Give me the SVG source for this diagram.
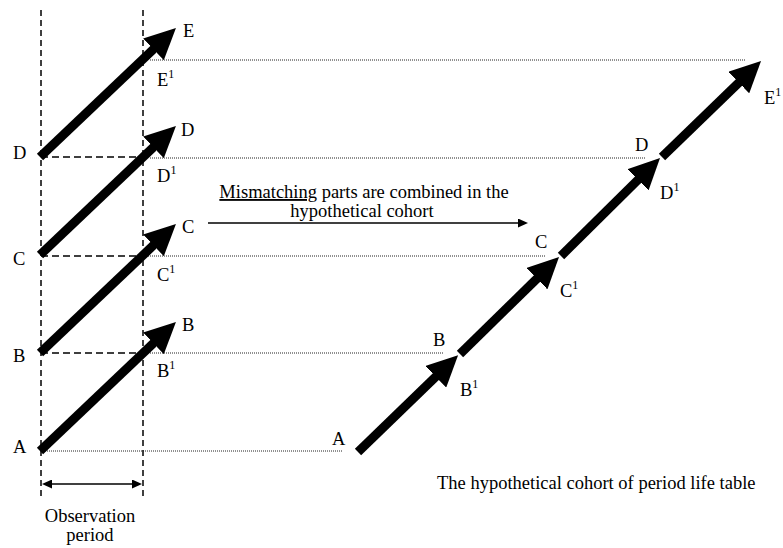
<svg xmlns="http://www.w3.org/2000/svg" width="783" height="548" viewBox="0 0 783 548">
<style>
text{font-family:"Liberation Serif","Times New Roman",serif;font-size:18.5px;fill:#000}
.sup{font-size:12px}
.vdash{stroke:#000;stroke-width:1.5;stroke-dasharray:6 4;fill:none}
.hdash{stroke:#000;stroke-width:1.5;stroke-dasharray:7 4;fill:none}
.dot{stroke:#222;stroke-width:1;stroke-dasharray:1 1;fill:none}
.big{stroke:#000;stroke-width:9;fill:none;marker-end:url(#bigHead)}
.thin{stroke:#000;stroke-width:1.5;fill:none}
</style>
<defs>
<marker id="bigHead" viewBox="0 0 31 30" refX="1" refY="15" markerWidth="31" markerHeight="30" markerUnits="userSpaceOnUse" orient="auto"><path d="M0,0 L31,15 L0,30 z" fill="#000"/></marker>
<marker id="smallHead" viewBox="0 0 10 9" refX="2" refY="4.5" markerWidth="10" markerHeight="9" markerUnits="userSpaceOnUse" orient="auto-start-reverse"><path d="M0,0 L10,4.5 L0,9 z" fill="#000"/></marker>
</defs>
<rect width="783" height="548" fill="#fff"/>
<g id="observation-frame">
<line class="vdash" x1="41" y1="10" x2="41" y2="499"/>
<line class="vdash" x1="143" y1="10" x2="143" y2="499"/>
<line class="hdash" x1="41" y1="157" x2="143" y2="157"/>
<line class="hdash" x1="41" y1="256" x2="143" y2="256"/>
<line class="hdash" x1="41" y1="353" x2="143" y2="353"/>
</g>
<g id="connectors">
<line class="dot" x1="150" y1="60" x2="745" y2="60"/>
<line class="dot" x1="150" y1="158" x2="645" y2="158"/>
<line class="dot" x1="148" y1="256" x2="545" y2="256"/>
<line class="dot" x1="150" y1="353" x2="443" y2="353"/>
<line class="dot" x1="41" y1="451" x2="343" y2="451"/>
<line class="thin" x1="208" y1="223" x2="520" y2="223" marker-end="url(#smallHead)"/>
<line class="thin" x1="50" y1="484" x2="134" y2="484" marker-start="url(#smallHead)" marker-end="url(#smallHead)"/>
</g>
<g id="cohort-arrows">
<line class="big" x1="40" y1="157" x2="154.2" y2="48.6"/>
<line class="big" x1="40" y1="255" x2="154.2" y2="146.6"/>
<line class="big" x1="40" y1="353" x2="154.2" y2="244.6"/>
<line class="big" x1="40" y1="451" x2="154.2" y2="342.6"/>
</g>
<g id="hypothetical-arrows">
<line class="big" x1="358" y1="452" x2="436.5" y2="376.1"/>
<line class="big" x1="460" y1="354" x2="537.6" y2="278"/>
<line class="big" x1="561" y1="256" x2="638.7" y2="179.1"/>
<line class="big" x1="662" y1="157" x2="739.5" y2="81.9"/>
</g>
<g id="left-labels">
<text x="13" y="159">D</text>
<text x="13" y="265">C</text>
<text x="13" y="362">B</text>
<text x="13" y="453">A</text>
</g>
<g id="cohort-labels">
<text x="183" y="37">E</text>
<text x="157" y="86">E<tspan class="sup" dy="-8">1</tspan></text>
<text x="181" y="136">D</text>
<text x="157" y="182">D<tspan class="sup" dy="-8">1</tspan></text>
<text x="182" y="233">C</text>
<text x="157" y="281">C<tspan class="sup" dy="-8">1</tspan></text>
<text x="182" y="331">B</text>
<text x="157" y="377">B<tspan class="sup" dy="-8">1</tspan></text>
</g>
<g id="hypothetical-labels">
<text x="332" y="445">A</text>
<text x="433" y="346">B</text>
<text x="460" y="396">B<tspan class="sup" dy="-8">1</tspan></text>
<text x="535" y="248">C</text>
<text x="560" y="297">C<tspan class="sup" dy="-8">1</tspan></text>
<text x="635" y="151">D</text>
<text x="660" y="199">D<tspan class="sup" dy="-8">1</tspan></text>
<text x="764" y="104">E<tspan class="sup" dy="-8">1</tspan></text>
</g>
<g id="mismatch-note">
<text x="364" y="198" text-anchor="middle"><tspan style="text-decoration:underline">Mismatching</tspan> parts are combined in the</text>
<text x="362" y="217" text-anchor="middle">hypothetical cohort</text>
</g>
<g id="observation-label">
<text x="90" y="522" text-anchor="middle">Observation</text>
<text x="90" y="541" text-anchor="middle">period</text>
</g>
<g id="caption">
<text x="437" y="489">The hypothetical cohort of period life table</text>
</g>
</svg>
